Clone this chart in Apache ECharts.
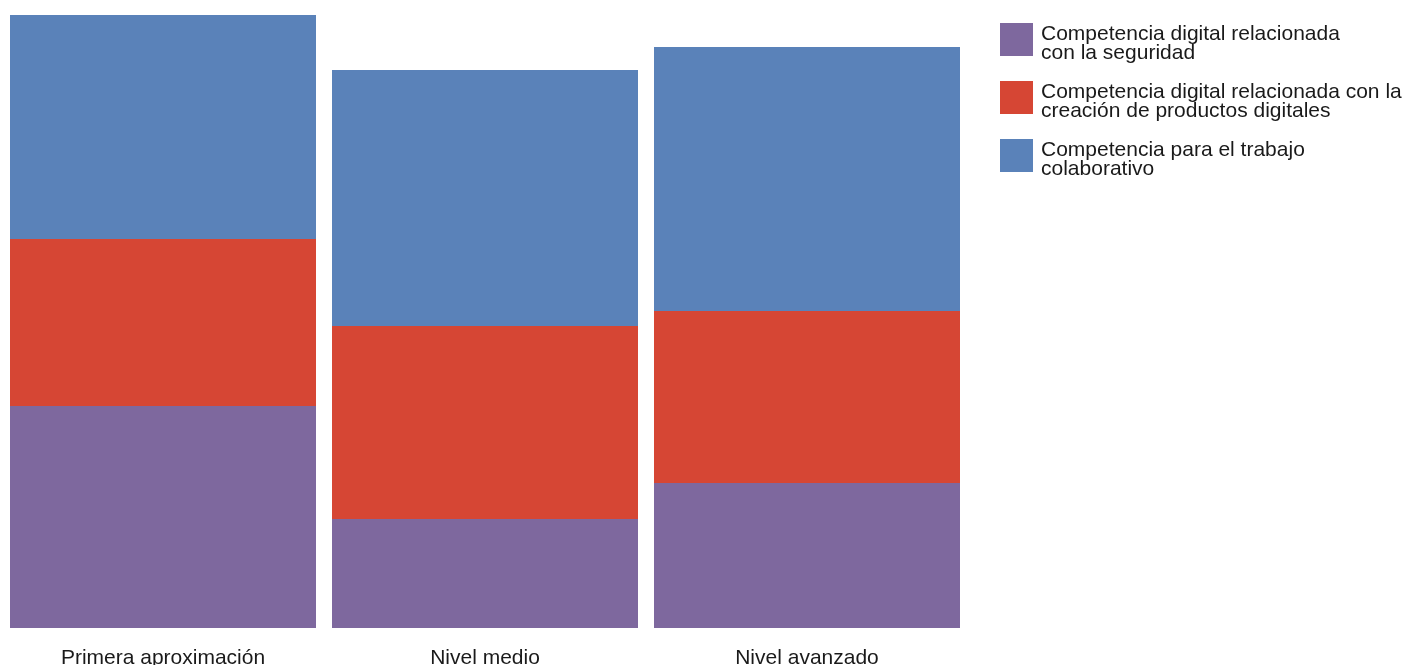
<!DOCTYPE html>
<html>
<head>
<meta charset="utf-8">
<script src="https://cdn.jsdelivr.net/npm/echarts@6/dist/echarts.min.js"></script>
<style>
html,body{margin:0;padding:0;background:#fff;}
#chart{width:1412px;height:665px;}
</style>
</head>
<body>
<div id="chart"></div>
<script>
const categories = ['Primera aproximación', 'Nivel medio', 'Nivel avanzado'];
const seriesNames = [
  'Competencia digital relacionada\ncon la seguridad',
  'Competencia digital relacionada con la\ncreación de productos digitales',
  'Competencia para el trabajo\ncolaborativo'
];
const seguridad = [22.2, 10.9, 14.5];
const creacion = [16.7, 19.3, 17.2];
const colaborativo = [22.4, 25.6, 26.4];
const colors = ['#7e689e', '#d64634', '#5a82b9'];

const chart = echarts.init(document.getElementById('chart'));
const font = 'Liberation Sans';
const mk = (name, data, color) => ({
  name, type: 'bar', stack: 'total', data,
  barWidth: 306,
  itemStyle: { color },
  emphasis: { disabled: true }
});
chart.setOption({
  animation: false,
  textStyle: { fontFamily: font },
  grid: { left: 2, width: 966, top: 15, bottom: 37, containLabel: false, outerBoundsMode: 'none' },
  legend: {
    orient: 'vertical', left: 1000, top: 16, padding: 0,
    itemWidth: 33, itemHeight: 33, itemGap: 10,
    icon: 'rect',
    formatter: name => '{s| }\n' + name.split('\n').map(l => '{a|' + l + '}').join('\n'),
    textStyle: {
      fontSize: 21, color: '#1a1a1a', lineHeight: 19, fontFamily: font, padding: [0,0,0,3],
      rich: {
        s: { fontSize: 2, lineHeight: 9 },
        a: { fontSize: 21, lineHeight: 19, color: '#1a1a1a', fontFamily: font }
      }
    },
    data: seriesNames
  },
  xAxis: {
    type: 'category', data: categories,
    axisLine: { show: false }, axisTick: { show: false },
    axisLabel: { fontSize: 21, color: '#1a1a1a', margin: 20, fontFamily: font }
  },
  yAxis: {
    type: 'value', min: 0, max: 61.3, show: false,
    splitLine: { show: false }
  },
  series: [
    mk(seriesNames[0], seguridad, colors[0]),
    mk(seriesNames[1], creacion, colors[1]),
    mk(seriesNames[2], colaborativo, colors[2])
  ]
});
</script>
</body>
</html>
